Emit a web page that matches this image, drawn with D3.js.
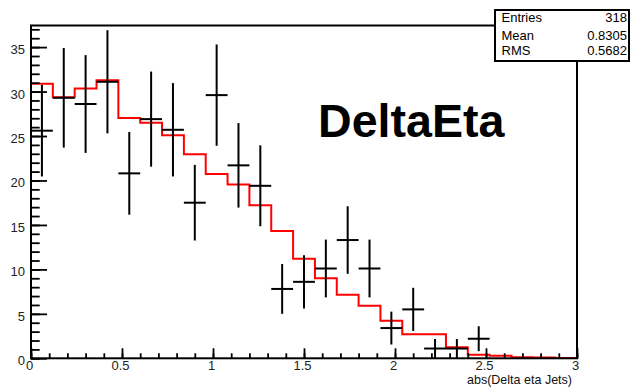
<!DOCTYPE html>
<html>
<head>
<meta charset="utf-8">
<script src="https://d3js.org/d3.v7.min.js"></script>
<style>
  body { margin: 0; background: #fff; }
  svg { display: block; font-family: "Liberation Sans", Arial, sans-serif; }
</style>
</head>
<body>
<div id="chart"></div>
<script>
// data histogram (points with errors), one entry per bin centre
const dataX   = [0.06, 0.18, 0.30, 0.42, 0.54, 0.66, 0.78, 0.90, 1.02, 1.14, 1.26,
                 1.38, 1.50, 1.62, 1.74, 1.86, 1.98, 2.10, 2.22, 2.34, 2.46];
const dataY   = [25.6, 29.3, 28.6, 31.1, 20.8, 26.9, 25.7, 17.5, 29.6, 21.7, 19.4,
                 7.8, 8.6, 10.1, 13.3, 10.1, 3.4, 5.5, 1.1, 1.1, 2.2];
const dataErr = [5.15, 5.6, 5.5, 5.8, 4.65, 5.35, 5.25, 4.25, 5.7, 4.75, 4.55,
                 2.8, 3.0, 3.25, 3.8, 3.25, 1.85, 2.43, 1.07, 1.07, 1.4];

// red reference histogram, 25 bins of 0.12 over [0, 3]
const binWidth = 0.12;
const mcY = [30.87, 29.37, 30.34, 31.28, 27.04, 26.5, 25.09, 22.96, 20.74, 19.54,
             17.22, 14.33, 11.21, 9.0, 7.16, 5.92, 4.23, 2.70, 2.70, 1.24,
             0.4, 0.28, 0.12, 0.08, 0.04];

const xTicks = [0, 0.5, 1, 1.5, 2, 2.5, 3];
const yTicks = [0, 5, 10, 15, 20, 25, 30, 35];
const xMinor = d3.range(0, 31).map(i => i / 10);
const yMinor = d3.range(0, 38);

const statNames  = ["Entries", "Mean", "RMS"];
const statValues = ["318", "0.8305", "0.5682"];

const width = 630, height = 390;

const x = d3.scaleLinear().domain([0, 3]).range([31, 577]);
const y = d3.scaleLinear().domain([0, 37.43]).range([358.3, 25.5]);

const svg = d3.select("#chart").append("svg")
    .attr("width", width)
    .attr("height", height);

svg.append("rect").attr("width", width).attr("height", height).attr("fill", "#fff");

// red step histogram
let steps = [[0, 0]];
mcY.forEach((v, i) => {
    steps.push([i * binWidth, v]);
    steps.push([(i + 1) * binWidth, v]);
});
steps.push([3, 0]);

svg.append("path")
    .attr("d", d3.line().x(d => x(d[0])).y(d => y(d[1]))(steps))
    .attr("fill", "none")
    .attr("stroke", "#ff0000")
    .attr("stroke-width", 2);

// data points: vertical error + horizontal half-bin bars
const pts = svg.append("g").attr("stroke", "#000").attr("stroke-width", 2);
dataX.forEach((cx, i) => {
    pts.append("line")
        .attr("x1", x(cx)).attr("x2", x(cx))
        .attr("y1", y(Math.max(0, dataY[i] - dataErr[i])))
        .attr("y2", y(dataY[i] + dataErr[i]));
    pts.append("line")
        .attr("x1", x(cx - binWidth / 2)).attr("x2", x(cx + binWidth / 2))
        .attr("y1", y(dataY[i])).attr("y2", y(dataY[i]));
});

// axes (ticks inside the frame)
const gx = svg.append("g").attr("transform", `translate(0,${y(0)})`);
gx.call(d3.axisBottom(x).tickValues(xMinor).tickSize(-5).tickFormat(""));
gx.call(g => g.select(".domain").remove());
const gx2 = svg.append("g").attr("transform", `translate(0,${y(0)})`)
    .call(d3.axisBottom(x).tickValues(xTicks).tickSize(-10).tickPadding(2).tickFormat(d3.format("")));
gx2.select(".domain").remove();
gx2.selectAll("text").attr("dx", -2);

const gy = svg.append("g").attr("transform", `translate(${x(0)},0)`);
gy.call(d3.axisLeft(y).tickValues(yMinor).tickSize(-8.7).tickFormat(""));
gy.select(".domain").remove();
const gy2 = svg.append("g").attr("transform", `translate(${x(0)},0)`)
    .call(d3.axisLeft(y).tickValues(yTicks).tickSize(-16).tickPadding(6));
gy2.select(".domain").remove();
gy2.selectAll("text").attr("dy", "0.5em");

svg.selectAll(".tick line").attr("stroke", "#000").attr("stroke-width", 1.8);
svg.selectAll(".tick text")
    .attr("font-family", "Liberation Sans, Arial, sans-serif")
    .attr("font-size", 13)
    .attr("fill", "#222");

// frame
svg.append("rect")
    .attr("x", x(0)).attr("y", y(37.43))
    .attr("width", x(3) - x(0)).attr("height", y(0) - y(37.43))
    .attr("fill", "none").attr("stroke", "#000").attr("stroke-width", 2);

// axis title
svg.append("text")
    .attr("x", 572).attr("y", 384)
    .attr("text-anchor", "end")
    .attr("font-size", 13)
    .attr("textLength", 105)
    .attr("lengthAdjust", "spacingAndGlyphs")
    .attr("fill", "#111")
    .text("abs(Delta eta Jets)");

// big label
svg.append("text")
    .attr("x", 318).attr("y", 136.7)
    .attr("font-size", 46.6)
    .attr("font-weight", "bold")
    .attr("fill", "#000")
    .text("DeltaEta");

// stats box
const stats = svg.append("g");
stats.append("rect")
    .attr("x", 495).attr("y", 10).attr("width", 134).attr("height", 51)
    .attr("fill", "#fff");
const statBase = [21.5, 39.5, 54.5];
statNames.forEach((n, i) => {
    stats.append("text").attr("x", 501.5).attr("y", statBase[i])
        .attr("font-size", 13).text(n);
    stats.append("text").attr("x", 627).attr("y", statBase[i])
        .attr("text-anchor", "end").attr("font-size", 13).text(statValues[i]);
});
stats.append("rect")
    .attr("x", 495).attr("y", 10).attr("width", 134).attr("height", 51)
    .attr("fill", "none").attr("stroke", "#000").attr("stroke-width", 2);
</script>
</body>
</html>
